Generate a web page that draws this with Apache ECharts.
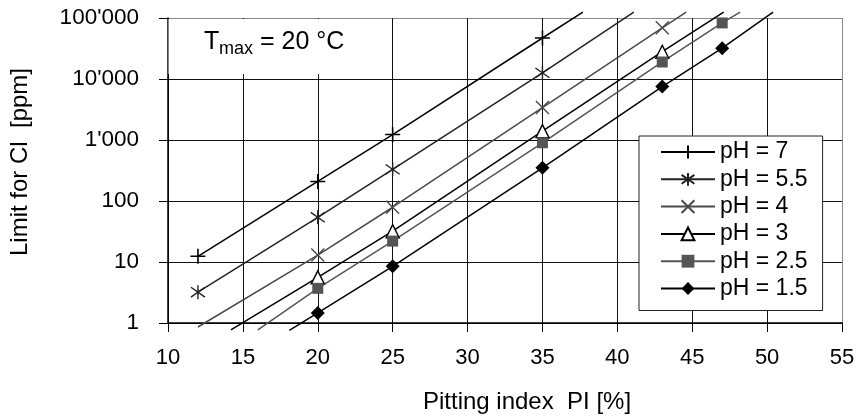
<!DOCTYPE html>
<html><head><meta charset="utf-8">
<script src="https://cdn.jsdelivr.net/npm/echarts@6/dist/echarts.min.js"></script>
<style>html,body{margin:0;padding:0;background:#fff}#c{width:858px;height:419px}</style>
</head><body><div id="c"></div>
<script>
// ---- data ----
const seriesNames = ['pH = 7', 'pH = 5.5', 'pH = 4', 'pH = 3', 'pH = 2.5', 'pH = 1.5'];
const xTicks = [10, 15, 20, 25, 30, 35, 40, 45, 50, 55];
const yTickLabels = ['1', '10', '100', "1'000", "10'000", "100'000"];

// measured points (with markers): Pitting index PI [%] and limit for Cl [ppm]
const pi_pH7  = [12, 20, 25, 35];
const cl_pH7  = [12.4, 209, 1230, 47000];
const pi_pH55 = [12, 20, 25, 35];
const cl_pH55 = [3.2, 54, 330, 12600];
const pi_pH4  = [20, 25, 35, 43];
const cl_pH4  = [13, 79, 3400, 69000];
const pi_pH3  = [20, 25, 35, 43];
const cl_pH3  = [5.6, 32, 1400, 28000];
const pi_pH25 = [20, 25, 35, 43, 47];
const cl_pH25 = [3.7, 22, 900, 19000, 83000];
const pi_pH15 = [20, 25, 35, 43, 47];
const cl_pH15 = [1.46, 8.5, 350, 7500, 32000];

// line extensions beyond the markers [PI, Cl] (null = none)
const start_pH7  = null;          const end_pH7  = [37.7, 125000];
const start_pH55 = null;          const end_pH55 = [41.1, 125000];
const start_pH4  = [12.0, 0.86];  const end_pH4  = [44.6, 125000];
const start_pH3  = [14.2, 0.77];  const end_pH3  = [47.1, 125000];
const start_pH25 = [16.0, 0.77];  const end_pH25 = [48.2, 125000];
const start_pH15 = [18.1, 0.76];  const end_pH15 = [50.4, 125000];

const seriesData = [
  [pi_pH7, cl_pH7, start_pH7, end_pH7],
  [pi_pH55, cl_pH55, start_pH55, end_pH55],
  [pi_pH4, cl_pH4, start_pH4, end_pH4],
  [pi_pH3, cl_pH3, start_pH3, end_pH3],
  [pi_pH25, cl_pH25, start_pH25, end_pH25],
  [pi_pH15, cl_pH15, start_pH15, end_pH15]
];

// ---- styles ----
const FONT = 'Liberation Sans, Arial, sans-serif';
const styles = [
  {line: '#000', symbol: 'path://M5,0L5,10M0,5L10,5', size: 15, fill: '#000', stroke: '#000', bw: 1.6},
  {line: '#222', symbol: 'path://M5,0L5,10M0.5,1.5L9.5,8.5M9.5,1.5L0.5,8.5', size: 14, fill: '#222', stroke: '#222', bw: 1.4},
  {line: '#4a4a4a', symbol: 'path://M0,0L10,10M10,0L0,10', size: 13, fill: '#4a4a4a', stroke: '#4a4a4a', bw: 1.4},
  {line: '#000', symbol: 'triangle', size: 13, fill: '#fff', stroke: '#000', bw: 1.4},
  {line: '#555', symbol: 'rect', size: 11, fill: '#555', stroke: '#555', bw: 0},
  {line: '#000', symbol: 'diamond', size: 14, fill: '#000', stroke: '#000', bw: 0}
];

const series = seriesData.map(function (d, i) {
  const pis = d[0], cls = d[1], st = d[2], en = d[3], s = styles[i];
  const data = [];
  if (st) data.push({value: st, symbol: 'none'});
  for (let k = 0; k < pis.length; k++) data.push({value: [pis[k], cls[k]]});
  if (en) data.push({value: en, symbol: 'none'});
  return {
    name: seriesNames[i],
    type: 'line',
    data: data,
    clip: false,
    symbol: s.symbol,
    symbolSize: s.size,
    showAllSymbol: true,
    lineStyle: {color: s.line, width: 1.5},
    itemStyle: {color: s.fill, borderColor: s.stroke, borderWidth: s.bw},
    emphasis: {disabled: true},
    z: 3
  };
});

const xSplitColors = xTicks.map(function (t, i) { return i === xTicks.length - 1 ? '#8a8a8a' : '#111'; });
const ySplitColors = yTickLabels.map(function (t, i) { return i === yTickLabels.length - 1 ? '#8a8a8a' : '#111'; });

const chart = echarts.init(document.getElementById('c'), null, {renderer: 'canvas'});
chart.setOption({
  animation: false,
  backgroundColor: '#fff',
  grid: {left: 167, right: 16, top: 18, bottom: 95, containLabel: false},
  xAxis: {
    type: 'value', min: xTicks[0], max: xTicks[xTicks.length - 1], interval: 5,
    axisLine: {show: true, onZero: false, lineStyle: {color: '#000', width: 1.5}},
    axisTick: {show: true, length: 9, lineStyle: {color: '#000', width: 1}},
    axisLabel: {fontSize: 22, margin: 24, color: '#000', fontFamily: FONT},
    splitLine: {show: true, lineStyle: {color: xSplitColors, width: 1}},
    name: 'Pitting index  PI [%]', nameLocation: 'middle', nameGap: 67,
    nameTextStyle: {fontSize: 24, color: '#000', fontFamily: FONT, padding: [0, 0, 0, 44]}
  },
  yAxis: {
    type: 'log', logBase: 10, min: 1, max: 100000,
    axisLine: {show: true, lineStyle: {color: '#000', width: 1.5}},
    axisTick: {show: true, length: 9, lineStyle: {color: '#000', width: 1}},
    axisLabel: {fontSize: 22.5, margin: 29, color: '#000', fontFamily: FONT,
      formatter: function (v) { return yTickLabels[Math.round(Math.log10(v))]; }},
    splitLine: {show: true, lineStyle: {color: ySplitColors, width: 1}},
    minorTick: {show: false}, minorSplitLine: {show: false},
    name: 'Limit for Cl  [ppm]', nameLocation: 'middle', nameGap: 136, nameRotate: 90,
    nameTextStyle: {fontSize: 24, color: '#000', fontFamily: FONT, padding: [0, 0, 0, 17]}
  },
  legend: {
    data: seriesNames, orient: 'vertical', left: 639, top: 136,
    itemWidth: 54, itemHeight: 16, itemGap: 4.3,
    padding: [4.5, 15, 10.5, 21],
    backgroundColor: '#fff', borderColor: '#222', borderWidth: 1,
    textStyle: {fontSize: 23, lineHeight: 23, color: '#000', fontFamily: FONT},
    selectedMode: false
  },
  graphic: {
    elements: [
      {type: 'rect', z: 50, shape: {x: 168.5, y: 19, width: 184, height: 55}, style: {fill: '#fff'}, silent: true},
      {type: 'text', z: 51, style: {x: 204, y: 42.3, text: 'T', font: '25px ' + FONT, fill: '#000', verticalAlign: 'middle'}},
      {type: 'text', z: 51, style: {x: 219, y: 48.7, text: 'max', font: '18px ' + FONT, fill: '#000', verticalAlign: 'middle'}},
      {type: 'text', z: 51, style: {x: 253, y: 42.3, text: ' = 20 °C', font: '25px ' + FONT, fill: '#000', verticalAlign: 'middle'}}
    ]
  },
  series: series
});
</script>
</body></html>
